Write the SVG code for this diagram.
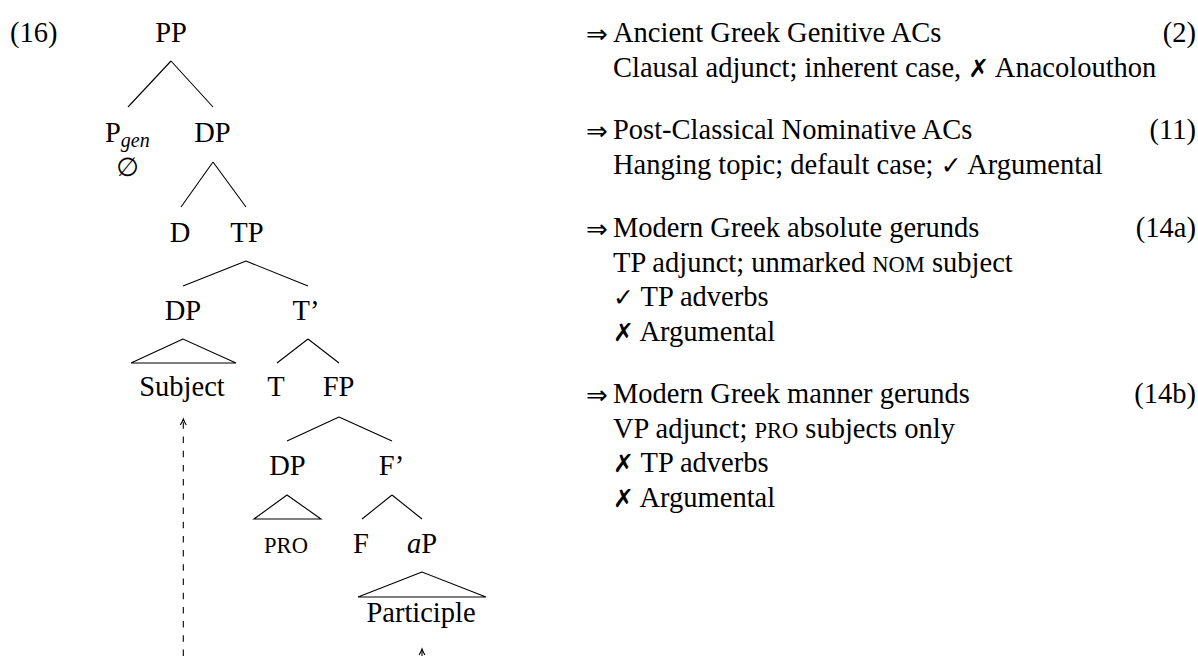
<svg xmlns="http://www.w3.org/2000/svg" width="1198" height="656" viewBox="0 0 1198 656">
<style>
text{font-family:"Liberation Serif","Times New Roman",serif;font-size:28.5px;fill:#000}
.n{text-anchor:middle}
.sub{font-size:20px;font-style:italic}
.sc{font-size:22.5px}
.sym{font-family:"DejaVu Sans",sans-serif;font-size:25px}
.es{font-family:"DejaVu Sans",sans-serif;font-size:26px}
.arr{font-family:"DejaVu Sans",sans-serif;font-size:26px}
.r{text-anchor:end}
.e{stroke:#000;stroke-width:1.1;fill:none}
.d{stroke:#000;stroke-width:1.1;fill:none;stroke-dasharray:6.5 7.7}
</style>
<g id="label16"><text x="10" y="42">(16)</text></g>
<g id="connectors">
<path class="e" d="M171,61L128,107M171,61L213,107"/>
<path class="e" d="M213,162L181,207M213,162L246,207"/>
<path class="e" d="M246,261L183,286M246,261L308,286"/>
<path class="e" d="M183,339L131,363L236,363Z"/>
<path class="e" d="M308,339L277,363M308,339L339,363"/>
<path class="e" d="M339,417L287,441M339,417L392,441"/>
<path class="e" d="M287,495L254,519L321,519Z"/>
<path class="e" d="M392,495L362,519M392,495L422,519"/>
<path class="e" d="M422,572L358,597L486,597Z"/>
<path class="d" d="M183.3,656L183.3,420"/>
<path d="M180.3,425 Q182.3,422 183.3,419 Q184.3,422 186.3,425" class="e"/>
<path class="e" d="M422,660L422,650"/>
<path d="M419,655 Q421,652 422,649 Q423,652 425,655" class="e"/>
</g>
<g id="n-PP"><text class="n" x="171" y="42">PP</text></g>
<g id="n-Pgen"><text x="105" y="142">P<tspan class="sub" dy="5">gen</tspan></text><text class="es n" x="127.5" y="176">∅</text></g>
<g id="n-DP1"><text class="n" x="212.5" y="142">DP</text></g>
<g id="n-D"><text class="n" x="180" y="242">D</text></g>
<g id="n-TP"><text class="n" x="247" y="242">TP</text></g>
<g id="n-DP2"><text class="n" x="183" y="320">DP</text></g>
<g id="n-Tbar"><text class="n" x="306" y="320">T’</text></g>
<g id="n-Subject"><text class="n" x="182" y="396">Subject</text></g>
<g id="n-T"><text class="n" x="276" y="396">T</text></g>
<g id="n-FP"><text class="n" x="338.5" y="396">FP</text></g>
<g id="n-DP3"><text class="n" x="287.5" y="475">DP</text></g>
<g id="n-Fbar"><text class="n" x="391.5" y="475">F’</text></g>
<g id="n-PRO"><text class="n sc" x="286" y="553">PRO</text></g>
<g id="n-F"><text class="n" x="361" y="553">F</text></g>
<g id="n-aP"><text class="n" x="422" y="553"><tspan font-style="italic">a</tspan>P</text></g>
<g id="n-Participle"><text class="n" x="421" y="622">Participle</text></g>
<g id="list">
<text class="arr" x="586" y="43">⇒</text><text x="613" y="42">Ancient Greek Genitive ACs</text><text class="r" x="1196" y="42">(2)</text>
<text x="613" y="76.5">Clausal adjunct; inherent case, <tspan class="sym">✗</tspan> Anacolouthon</text>
<text class="arr" x="586" y="140">⇒</text><text x="613" y="139">Post-Classical Nominative ACs</text><text class="r" x="1196" y="139">(11)</text>
<text x="613" y="173.5">Hanging topic; default case; <tspan class="sym">✓</tspan> Argumental</text>
<text class="arr" x="586" y="238">⇒</text><text x="613" y="237">Modern Greek absolute gerunds</text><text class="r" x="1196" y="237">(14a)</text>
<text x="613" y="271.5">TP adjunct; unmarked <tspan class="sc">NOM</tspan> subject</text>
<text x="613" y="306"><tspan class="sym">✓</tspan> TP adverbs</text>
<text x="613" y="340.5"><tspan class="sym">✗</tspan> Argumental</text>
<text class="arr" x="586" y="404">⇒</text><text x="613" y="403">Modern Greek manner gerunds</text><text class="r" x="1196" y="403">(14b)</text>
<text x="613" y="437.5">VP adjunct; <tspan class="sc">PRO</tspan> subjects only</text>
<text x="613" y="472"><tspan class="sym">✗</tspan> TP adverbs</text>
<text x="613" y="506.5"><tspan class="sym">✗</tspan> Argumental</text>
</g>
</svg>
